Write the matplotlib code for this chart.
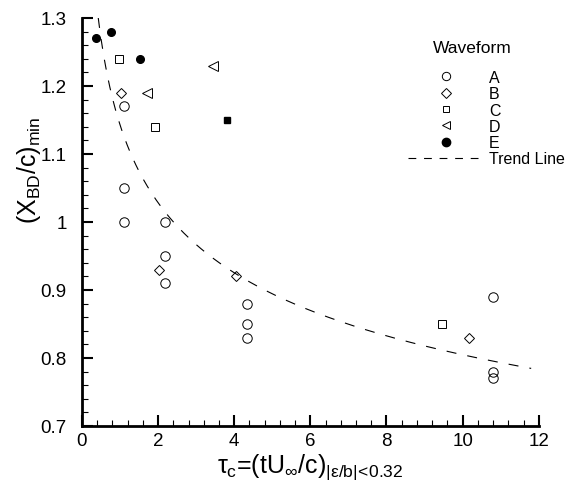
import numpy as np
import matplotlib
matplotlib.use("Agg")
import matplotlib.pyplot as plt
from matplotlib.lines import Line2D
from matplotlib.ticker import MultipleLocator, FormatStrFormatter

plt.rcParams['font.family'] = ['Liberation Sans', 'DejaVu Sans']
plt.rcParams['mathtext.fontset'] = 'custom'
plt.rcParams['mathtext.rm'] = 'Liberation Sans'
plt.rcParams['mathtext.it'] = 'Liberation Sans'

# waveform A (open circles)
a_x = [1.10, 1.10, 1.10, 2.19, 2.19, 2.19, 4.34, 4.34, 4.34, 10.8, 10.8, 10.8]
a_y = [1.17, 1.05, 1.00, 1.00, 0.95, 0.91, 0.88, 0.85, 0.83, 0.89, 0.78, 0.77]
# waveform B (open diamonds)
b_x = [1.02, 2.03, 4.06, 10.17]
b_y = [1.19, 0.93, 0.92, 0.83]
# waveform C (open squares)
c_x = [0.97, 1.91, 9.47]
c_y = [1.24, 1.14, 0.85]
# waveform D (left triangles)
d_x = [1.72, 3.45]
d_y = [1.19, 1.23]
# waveform E (filled circles)
e_x = [0.37, 0.76, 1.52]
e_y = [1.27, 1.28, 1.24]
# extra filled square
sq_x = [3.8]
sq_y = [1.15]

# power-law trend y = k * tau^p
trend_k = 1.143
trend_p = -0.1524
trend_range = (0.43, 11.8)

fig = plt.figure(figsize=(5.85, 4.85), dpi=100)
ax = fig.add_axes([0.140, 0.1196, 0.781, 0.8414])

mk = dict(linestyle='none', markerfacecolor='none',
          markeredgecolor='black', markeredgewidth=0.7)
ax.plot(a_x, a_y, marker='o', markersize=6.8, **mk)
ax.plot(b_x, b_y, marker='D', markersize=5.5, **mk)
ax.plot(c_x, c_y, marker='s', markersize=5.2, **mk)
ax.plot(d_x, d_y, marker='<', markersize=6.5, **mk)
ax.plot(e_x, e_y, marker='o', linestyle='none', markersize=5.5, color='black')
ax.plot(sq_x, sq_y, marker='s', linestyle='none', markersize=5, color='black')

tx = np.linspace(trend_range[0], trend_range[1], 300)
ax.plot(tx, trend_k * tx ** trend_p, color='black', lw=0.8, dashes=(9, 10))

ax.set_xlim(0, 12)
ax.set_ylim(0.7, 1.3)
ax.xaxis.set_major_locator(MultipleLocator(2))
ax.xaxis.set_minor_locator(MultipleLocator(0.4))
ax.yaxis.set_major_locator(MultipleLocator(0.1))
ax.yaxis.set_minor_locator(MultipleLocator(0.02))
ax.yaxis.set_major_formatter(FormatStrFormatter('%g'))
ax.tick_params(which='both', direction='in', width=1.5, labelsize=13.5,
               top=False, right=False)
ax.tick_params(which='major', length=8)
ax.tick_params(which='minor', length=4, width=0.8)
ax.tick_params(axis='y', which='major', pad=11)
ax.tick_params(axis='x', which='major', pad=4)
for s in ['top', 'right']:
    ax.spines[s].set_visible(False)
for s in ['left', 'bottom']:
    ax.spines[s].set_linewidth(2)

ax.set_xlabel(r'$\tau_c$=(tU$_\infty$/c)$_{|\varepsilon/b|\!<\!0.32}$',
              fontsize=18, labelpad=2)
ax.set_ylabel(r'(X$_{BD}$/c)$_{min}$', fontsize=18)
ax.yaxis.set_label_coords(-0.085, 0.63)

handles = [
    Line2D([], [], marker='o', markersize=6, **mk),
    Line2D([], [], marker='D', markersize=5, **mk),
    Line2D([], [], marker='s', markersize=4.5, **mk),
    Line2D([], [], marker='<', markersize=6, **mk),
    Line2D([], [], marker='o', linestyle='none', markersize=6, color='black'),
    Line2D([], [], color='black', lw=0.8, dashes=(7, 7)),
]
labels = ['A', 'B', 'C', 'D', 'E', 'Trend Line']
ax.legend(handles, labels, frameon=False, fontsize=11.5,
          loc='upper left', bbox_to_anchor=(0.70, 0.888),
          labelspacing=0.08, handlelength=4.7, handletextpad=0.35,
          borderaxespad=0)
ax.text(0.855, 0.927, 'Waveform', transform=ax.transAxes, fontsize=12.5,
        ha='center', va='center')

fig.savefig('out.png', dpi=100)
